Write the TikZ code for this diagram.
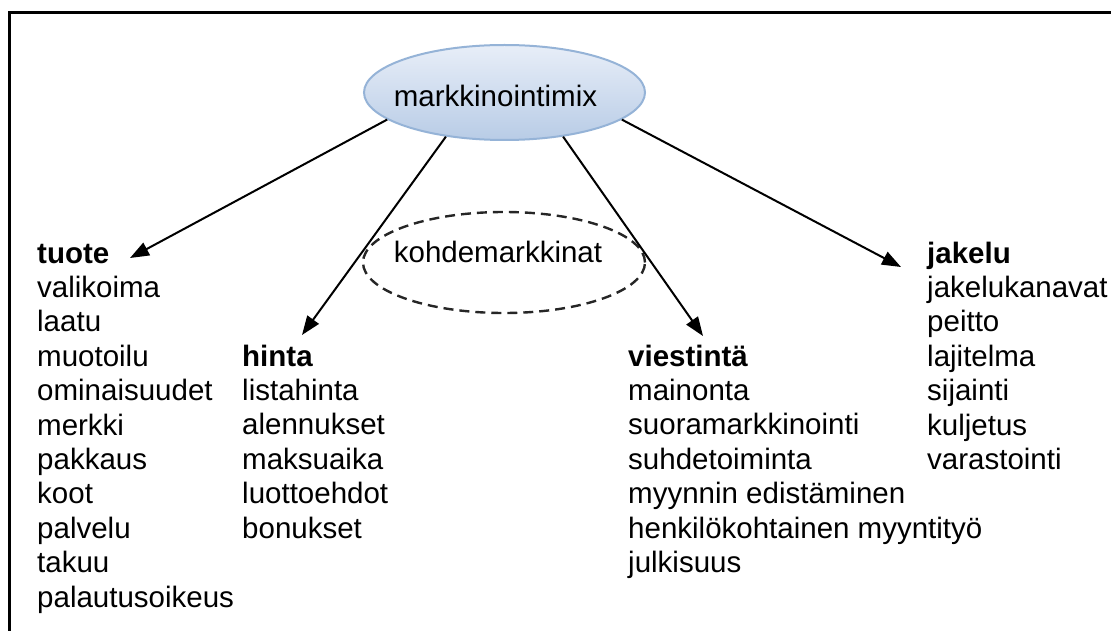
\documentclass[tikz,border=0pt]{standalone}
\usepackage{fontspec}
\setmainfont{Liberation Sans}
\usetikzlibrary{arrows.meta,shapes.geometric}
\definecolor{mixborder}{RGB}{149,179,215}
\definecolor{mixtop}{RGB}{232,238,248}
\definecolor{mixbottom}{RGB}{184,204,230}
\begin{document}
\begin{tikzpicture}[x=1pt,y=-1pt,
  txt/.style={font=\fontsize{29.5}{34}\selectfont,text=black},
  item/.style={txt,anchor=base west,inner sep=0pt},
  head/.style={item,font=\fontsize{29.5}{34}\selectfont\bfseries},
  arr/.style={line width=2pt,-{Triangle[length=19pt,width=14pt]}},
  mixbox/.style={ellipse,draw=mixborder,line width=2pt,top color=mixtop,bottom color=mixbottom,
    minimum width=281pt,minimum height=95pt,inner sep=0pt,txt,text height=29pt,text depth=0pt},
  targetbox/.style={ellipse,draw=black!85,line width=2.4pt,dash pattern=on 10pt off 6pt,
    minimum width=282pt,minimum height=101pt,inner sep=0pt,txt,text height=10pt,text depth=10pt},
  frame/.style={line width=3pt,draw=black}
 ]
\useasboundingbox (0,0) rectangle (1111,631);
\clip (0,0) rectangle (1111,631);
\draw[frame] (9,13) rectangle (1140,660);

\node[mixbox] (mix) at (504.5,92.5) {\hspace*{-18pt}markkinointimix};
\node[targetbox] (target) at (504,262.5) {\hspace*{-12pt}kohdemarkkinat};

\coordinate (t1) at (130,258);
\coordinate (t2) at (302,335);
\coordinate (t3) at (703,336);
\coordinate (t4) at (901,267);
\draw[arr] (mix.193) -- (t1);
\draw[arr] (mix.217) -- (t2);
\draw[arr] (mix.323) -- (t3);
\draw[arr] (mix.347) -- (t4);

\node[head] (tuote) at (37,263) {tuote};
\foreach \w [count=\i] in {valikoima,laatu,muotoilu,ominaisuudet,merkki,pakkaus,koot,palvelu,takuu,palautusoikeus}
  \node[item] (tuote\i) at (37,263+34.4*\i) {\w};

\node[head] (hinta) at (242,366) {hinta};
\foreach \w [count=\i] in {listahinta,alennukset,maksuaika,luottoehdot,bonukset}
  \node[item] (hinta\i) at (242,366+34.4*\i) {\w};

\node[head] (viestinta) at (628,366) {viestintä};
\foreach \w [count=\i] in {mainonta,suoramarkkinointi,suhdetoiminta,myynnin edistäminen,henkilökohtainen myyntityö,julkisuus}
  \node[item] (viestinta\i) at (628,366+34.4*\i) {\w};

\node[head] (jakelu) at (927,263) {jakelu};
\foreach \w [count=\i] in {jakelukanavat,peitto,lajitelma,sijainti,kuljetus,varastointi}
  \node[item] (jakelu\i) at (927,263+34.4*\i) {\w};
\end{tikzpicture}
\end{document}
